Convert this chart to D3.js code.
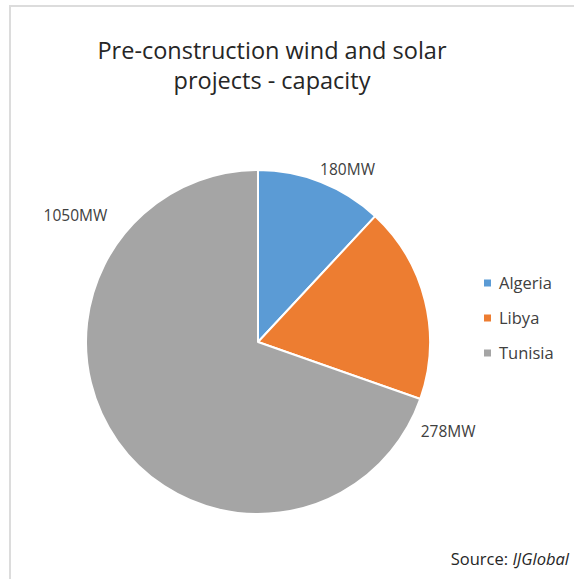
<!DOCTYPE html>
<style>
body { margin: 0; background: #fff; }
text { font-family: "Open Sans", sans-serif; }
</style>
<svg id="pieChart" width="574" height="579"></svg>
<script src="https://d3js.org/d3.v7.min.js"></script>
<script>

var categories = ["Algeria", "Libya", "Tunisia"];
var capacity = [180, 278, 1050];
var labels = ["180MW", "278MW", "1050MW"];
var titleLines = ["Pre-construction wind and solar", "projects - capacity"];

var svg = d3.select("#pieChart");
var cx = 258, cy = 342, radius = 172;
var color = d3.scaleOrdinal().domain(categories).range(["#5b9bd5", "#ed7d31", "#a5a5a5"]);

// frame lines (top + left only, like the cropped screenshot)
svg.append("line").attr("x1", 10).attr("x2", 574).attr("y1", 6).attr("y2", 6)
  .attr("stroke", "#dcdcdc").attr("stroke-width", 2);
svg.append("line").attr("x1", 10).attr("x2", 10).attr("y1", 5).attr("y2", 579)
  .attr("stroke", "#dcdcdc").attr("stroke-width", 2);

svg.append("g")
  .selectAll("text")
  .data(titleLines)
  .enter().append("text")
    .attr("x", 272)
    .attr("y", function(d, i) { return 59 + i * 30; })
    .attr("text-anchor", "middle")
    .attr("font-size", 23.5)
    .attr("fill", "#262626")
    .text(function(d) { return d; });

var data = categories.map(function(c, i) { return {name: c, value: capacity[i], label: labels[i]}; });
var pie = d3.pie().sort(null).value(function(d) { return d.value; });
var arc = d3.arc().innerRadius(0).outerRadius(radius);
var arcs = pie(data);

var g = svg.append("g").attr("transform", "translate(" + cx + "," + cy + ")");

g.selectAll("path")
  .data(arcs)
  .enter().append("path")
    .attr("d", arc)
    .attr("fill", function(d) { return color(d.data.name); })
    .attr("stroke", "#fff")
    .attr("stroke-width", 2)
    .attr("stroke-linejoin", "round");

// excel "best fit" label spots: angle shift (deg) from slice middle and distance from centre
var labelShift = [6, 39, 70];
var labelDist = [194, 210, 222];
g.selectAll("text.lbl")
  .data(arcs)
  .enter().append("text")
    .attr("class", "lbl")
    .attr("transform", function(d, i) {
      var a = (d.startAngle + d.endAngle) / 2 + labelShift[i] * Math.PI / 180;
      return "translate(" + (Math.sin(a) * labelDist[i]) + "," + (-Math.cos(a) * labelDist[i]) + ")";
    })
    .attr("text-anchor", "middle")
    .attr("dy", "0.35em")
    .attr("font-size", 15.5)
    .attr("fill", "#404040")
    .text(function(d) { return d.data.label; });

var legend = svg.append("g")
  .selectAll("g")
  .data(categories)
  .enter().append("g")
    .attr("transform", function(d, i) { return "translate(484," + (283 + i * 35) + ")"; });

legend.append("rect")
  .attr("x", 0).attr("y", -3.5)
  .attr("width", 7).attr("height", 7)
  .attr("fill", color);

legend.append("text")
  .attr("x", 15)
  .attr("dy", "0.35em")
  .attr("font-size", 16.5)
  .attr("fill", "#404040")
  .text(function(d) { return d; });

var src = svg.append("text")
  .attr("x", 569).attr("y", 565)
  .attr("text-anchor", "end")
  .attr("font-size", 16.5)
  .attr("fill", "#262626");
src.append("tspan").text("Source: ");
src.append("tspan").attr("font-style", "italic").text("IJGlobal");

</script>
